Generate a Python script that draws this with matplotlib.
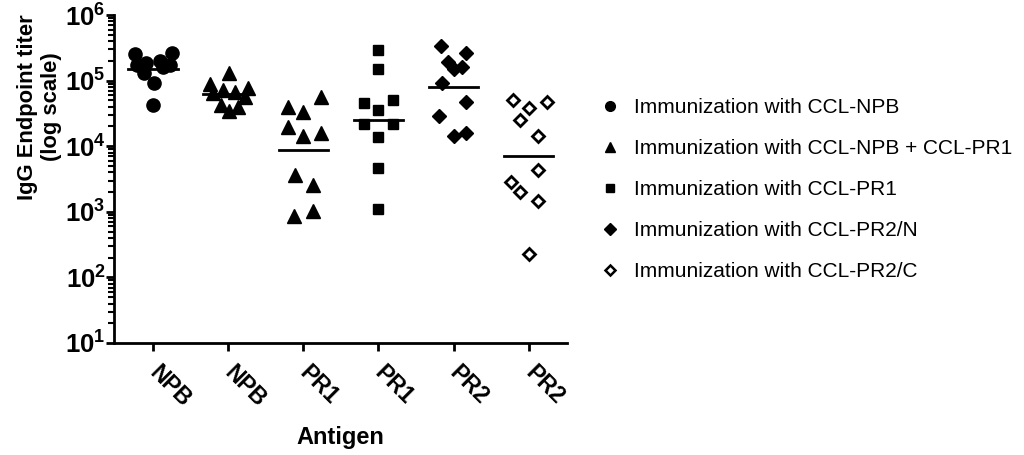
import numpy as np
import matplotlib
matplotlib.use("Agg")
import matplotlib.pyplot as plt
from matplotlib.lines import Line2D
from matplotlib.ticker import LogLocator, FuncFormatter, NullFormatter

plt.rcParams['font.family'] = ['Liberation Sans', 'DejaVu Sans']
plt.rcParams['mathtext.fontset'] = 'custom'
plt.rcParams['mathtext.rm'] = 'Liberation Sans'
plt.rcParams['mathtext.bf'] = 'Liberation Sans:bold'

# ---- data ----
antigens = ["NPB", "NPB", "PR1", "PR1", "PR2", "PR2"]
legend_labels = ["Immunization with CCL-NPB",
                 "Immunization with CCL-NPB + CCL-PR1",
                 "Immunization with CCL-PR1",
                 "Immunization with CCL-PR2/N",
                 "Immunization with CCL-PR2/C"]

npb_ccl_npb = [2.56e5, 1.75e5, 1.87e5, 1.32e5, 2.0e5, 1.63e5, 1.75e5, 2.65e5, 9.3e4, 4.3e4]
npb_combo = [1.32e5, 9.0e4, 7.3e4, 6.8e4, 7.6e4, 6.4e4, 5.7e4, 4.3e4, 3.5e4, 4.0e4]
pr1_combo = [5.7e4, 3.9e4, 3.3e4, 1.94e4, 1.42e4, 1.57e4, 3.6e3, 2.6e3, 8.7e2, 1.04e3]
pr1_ccl_pr1 = [2.95e5, 1.52e5, 4.5e4, 3.6e4, 5.0e4, 2.15e4, 2.15e4, 1.37e4, 4.6e3, 1.11e3]
pr2_ccl_pr2n = [3.39e5, 2.65e5, 1.94e5, 1.52e5, 1.63e5, 9.3e4, 4.8e4, 2.85e4, 1.42e4, 1.57e4]
pr2_ccl_pr2c = [5.15e4, 4.8e4, 3.77e4, 2.48e4, 1.42e4, 4.3e3, 2.85e3, 2.0e3, 1.47e3, 2.3e2]

# horizontal scatter offsets (category units) as in the original dot plot
jit1 = [-0.24, -0.21, -0.09, -0.12, 0.09, 0.13, 0.23, 0.25, 0.01, 0.0]
jit2 = [0.01, -0.24, -0.07, 0.09, 0.27, -0.20, 0.23, -0.09, 0.01, 0.13]
jit3 = [0.23, -0.21, 0.0, -0.21, 0.0, 0.23, -0.11, 0.13, -0.12, 0.13]
jit4 = [0.0, 0.0, -0.19, 0.0, 0.20, -0.19, 0.20, 0.0, 0.0, 0.0]
jit5 = [-0.17, 0.17, -0.08, 0.01, 0.11, -0.16, 0.16, -0.19, 0.01, 0.17]
jit6 = [-0.21, 0.24, 0.01, -0.11, 0.12, 0.12, -0.23, -0.11, 0.12, 0.01]

groups = [npb_ccl_npb, npb_combo, pr1_combo, pr1_ccl_pr1, pr2_ccl_pr2n, pr2_ccl_pr2c]
jits = [jit1, jit2, jit3, jit4, jit5, jit6]
styles = [dict(marker='o', ms=9.5, mfc='black', mec='black'),
          dict(marker='^', ms=9.5, mfc='black', mec='black'),
          dict(marker='^', ms=9.5, mfc='black', mec='black'),
          dict(marker='s', ms=7, mfc='black', mec='black'),
          dict(marker='D', ms=7.5, mfc='black', mec='black'),
          dict(marker='D', ms=6.5, mfc='white', mec='black', mew=2)]

fig = plt.figure(figsize=(10.24, 4.55), dpi=100)
ax = fig.add_axes([114/1024, 1-343/455, (567-114)/1024, (343-15)/455])

for i, (vals, jit, st) in enumerate(zip(groups, jits, styles)):
    x = i + np.array(jit)
    ax.plot(x, vals, linestyle='none', **st)
    gm = 10 ** np.mean(np.log10(vals))
    ax.plot([i - 0.33, i + 0.33], [gm, gm], color='black', lw=2, zorder=1)

ax.set_yscale('log')
ax.set_ylim(10, 1e6)
ax.set_xlim(-0.52, 5.51)
ax.yaxis.set_major_locator(LogLocator(base=10, numticks=10))
ax.yaxis.set_minor_locator(LogLocator(base=10, subs=np.arange(2, 10), numticks=20))
ax.yaxis.set_minor_formatter(NullFormatter())
ax.yaxis.set_major_formatter(FuncFormatter(lambda v, p: r'$\mathbf{10^{%d}}$' % round(np.log10(v))))

ax.set_xticks(range(len(antigens)))
ax.set_xticklabels(antigens, rotation=-45, ha='left', va='center',
                   rotation_mode='anchor', fontsize=16.5, fontweight='bold')

for s in ['top', 'right']:
    ax.spines[s].set_visible(False)
for s in ['left', 'bottom']:
    ax.spines[s].set_linewidth(2)

ax.tick_params(axis='y', which='major', length=6, width=2, labelsize=18.5, pad=0)
ax.tick_params(axis='y', which='minor', length=4, width=1.5)
ax.tick_params(axis='x', which='major', length=6, width=2, pad=13)

ax.set_ylabel("IgG Endpoint titer\n(log scale)", fontsize=15.8, fontweight='bold',
              va='center', ha='center')
ax.yaxis.set_label_coords(-0.165, 0.72)
ax.set_xlabel("Antigen", fontsize=17, fontweight='bold', va='top')
ax.xaxis.set_label_coords(0.5, -0.252)

handles = [Line2D([], [], linestyle='none', marker='o', ms=7, mfc='black', mec='black'),
           Line2D([], [], linestyle='none', marker='^', ms=7, mfc='black', mec='black'),
           Line2D([], [], linestyle='none', marker='s', ms=6, mfc='black', mec='black'),
           Line2D([], [], linestyle='none', marker='D', ms=6, mfc='black', mec='black'),
           Line2D([], [], linestyle='none', marker='D', ms=5, mfc='white', mec='black', mew=1.8)]
fig.legend(handles, legend_labels, loc='upper left', bbox_to_anchor=(589/1024, 1-90/455),
           frameon=False, fontsize=15, labelspacing=1.05, handletextpad=0.58, handlelength=1.2,
           borderaxespad=0)

fig.savefig("out.png", dpi=100)
